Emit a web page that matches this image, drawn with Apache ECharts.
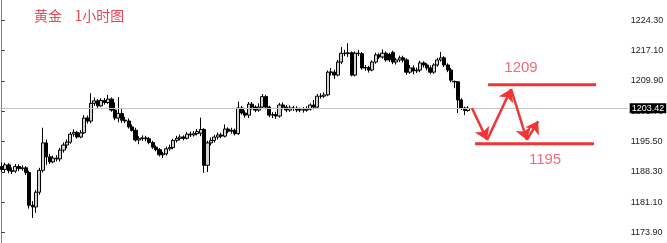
<!DOCTYPE html>
<html>
<head>
<meta charset="utf-8">
<script src="https://cdn.jsdelivr.net/npm/echarts@6/dist/echarts.min.js"></script>
<style>
html,body{margin:0;padding:0;background:#fff;}
#chart{width:667px;height:243px;}
</style>
</head>
<body>
<div id="chart"></div>
<script>
// ---- data ----
const titleText = '黄金    1小时图';
// [open, close, low, high] for each 1-hour bar
const candles = [
[1189.6,1188.9,1188.3,1190.6],[1188.9,1190.0,1188.2,1190.5],[1190.0,1188.6,1188.0,1190.4],[1188.6,1188.5,1187.8,1189.4],
[1188.5,1189.6,1188.1,1190.2],[1189.6,1189.1,1188.5,1190.1],[1189.1,1189.3,1188.6,1189.9],[1189.3,1188.2,1187.6,1189.7],
[1188.2,1180.4,1179.6,1188.6],[1180.4,1180.0,1177.4,1181.4],[1180.0,1183.5,1178.6,1184.0],[1183.5,1188.7,1182.9,1189.3],
[1188.7,1195.2,1188.2,1198.8],[1195.2,1191.9,1190.0,1196.0],[1191.9,1190.7,1190.2,1192.6],[1190.7,1191.6,1190.4,1192.2],
[1191.6,1191.4,1190.8,1192.3],[1191.4,1193.5,1190.8,1194.0],[1193.5,1194.7,1192.9,1195.3],[1194.7,1195.4,1193.9,1196.0],
[1195.4,1197.3,1195.0,1197.8],[1197.3,1197.7,1196.7,1198.4],[1197.7,1196.6,1196.2,1198.0],[1196.6,1197.6,1196.3,1198.2],
[1197.6,1201.1,1197.3,1201.8],[1201.1,1200.4,1199.8,1201.7],[1200.4,1204.6,1199.9,1207.0],[1204.6,1205.2,1204.0,1206.0],
[1205.2,1204.0,1203.5,1205.6],[1204.0,1205.3,1203.8,1205.8],[1205.3,1204.8,1204.3,1205.9],[1204.8,1205.6,1204.5,1206.6],
[1205.6,1203.0,1202.6,1206.0],[1203.0,1201.1,1200.6,1204.8],[1201.1,1202.2,1200.1,1206.1],[1202.2,1200.6,1200.0,1203.4],
[1200.6,1200.4,1199.9,1201.4],[1200.4,1199.0,1198.6,1201.0],[1199.0,1198.2,1197.9,1199.6],[1198.2,1195.9,1195.5,1198.8],
[1195.9,1196.2,1194.9,1196.8],[1196.2,1196.4,1195.7,1197.0],[1196.4,1196.2,1195.6,1196.9],[1196.2,1195.3,1194.9,1196.6],
[1195.3,1194.2,1193.8,1195.7],[1194.2,1193.6,1193.2,1194.6],[1193.6,1192.4,1192.0,1194.0],[1192.4,1192.6,1191.6,1193.1],
[1192.6,1193.8,1192.2,1194.3],[1193.8,1194.1,1193.4,1194.8],[1194.1,1195.8,1193.7,1196.2],[1195.8,1196.3,1195.3,1196.9],
[1196.3,1196.6,1195.8,1197.2],[1196.6,1196.3,1195.8,1197.0],[1196.3,1197.3,1196.0,1197.8],[1197.3,1197.1,1196.6,1197.9],
[1197.1,1197.4,1196.7,1198.0],[1197.4,1197.9,1197.0,1198.5],[1197.5,1198.4,1196.8,1201.2],[1198.4,1189.9,1188.1,1198.7],
[1189.9,1195.2,1188.3,1195.7],[1195.2,1195.8,1194.6,1196.5],[1195.8,1196.6,1195.3,1197.1],[1196.6,1197.1,1196.0,1197.7],
[1197.1,1196.8,1196.3,1197.6],[1196.8,1198.5,1196.5,1199.6],[1198.5,1198.0,1197.5,1198.9],[1198.0,1198.2,1197.4,1198.8],
[1198.2,1197.4,1197.0,1198.6],[1197.4,1203.5,1197.1,1205.0],[1203.5,1202.3,1201.9,1204.0],[1202.3,1201.8,1201.2,1202.9],
[1201.8,1204.4,1201.1,1204.9],[1204.4,1203.7,1203.1,1204.9],[1203.7,1203.0,1202.5,1204.1],[1203.0,1203.7,1202.6,1204.6],
[1203.7,1206.2,1203.4,1206.8],[1206.2,1203.7,1203.2,1206.6],[1203.7,1201.8,1201.3,1204.0],[1201.8,1201.9,1201.1,1202.5],
[1201.9,1201.6,1200.9,1202.6],[1201.6,1204.2,1201.2,1204.7],[1204.2,1203.7,1203.2,1204.8],[1203.7,1203.0,1202.5,1204.2],
[1203.0,1203.5,1202.6,1204.1],[1203.5,1203.4,1202.8,1204.0],[1203.4,1203.0,1202.5,1203.9],[1203.0,1203.1,1202.5,1203.6],
[1203.1,1203.0,1202.4,1203.7],[1203.0,1203.2,1202.6,1203.9],[1203.2,1204.2,1202.9,1204.6],[1204.2,1203.7,1203.2,1205.4],
[1203.7,1206.3,1203.4,1206.8],[1206.3,1206.3,1205.7,1207.0],[1206.3,1206.6,1205.9,1207.2],[1206.6,1212.0,1206.3,1212.4],
[1212.0,1212.0,1211.2,1213.0],[1212.0,1211.3,1210.4,1212.6],[1211.3,1214.4,1211.0,1214.9],[1214.4,1216.5,1213.9,1218.0],
[1216.5,1216.4,1215.8,1217.3],[1216.4,1216.6,1215.6,1218.9],[1216.6,1211.3,1211.0,1216.9],[1211.3,1216.5,1211.0,1216.9],
[1216.5,1216.4,1215.8,1217.3],[1216.4,1213.0,1212.6,1216.8],[1213.0,1213.1,1212.3,1213.7],[1213.1,1212.5,1211.9,1213.5],
[1212.5,1214.4,1212.2,1214.8],[1214.4,1216.1,1214.0,1216.6],[1216.1,1215.6,1215.1,1216.5],[1215.6,1216.5,1215.2,1217.4],
[1216.5,1214.9,1214.5,1216.9],[1216.2,1214.9,1214.4,1216.6],[1216.7,1214.4,1213.9,1217.1],[1214.4,1214.9,1213.8,1215.4],
[1214.9,1215.4,1214.4,1215.9],[1215.4,1214.9,1214.3,1215.9],[1214.9,1212.0,1211.4,1215.3],[1212.0,1213.0,1211.6,1213.7],
[1213.0,1212.3,1211.5,1213.6],[1212.3,1212.5,1211.8,1213.1],[1212.5,1214.2,1212.0,1214.7],[1214.2,1213.7,1213.1,1214.6],
[1213.7,1213.0,1212.4,1214.1],[1213.0,1212.0,1211.5,1213.6],[1212.0,1213.7,1211.6,1214.1],[1213.7,1214.9,1213.3,1215.4],
[1214.9,1215.4,1214.5,1216.8],[1215.4,1213.7,1213.2,1215.8],[1213.7,1212.5,1212.0,1214.1],[1212.5,1210.1,1209.6,1213.0],
[1209.8,1209.7,1208.2,1210.0],[1209.7,1205.4,1202.3,1209.9],[1205.4,1203.5,1203.0,1205.8],[1203.5,1202.9,1201.8,1203.8],
[1202.9,1203.42,1202.6,1203.9]
];
const totalSlots = 183;           // bars + empty space to the right of the last bar
const categories = Array.from({length: totalSlots}, (_, i) => 'H' + i);
const currentPrice = 1203.42;
const yTicks = [1173.90, 1181.10, 1188.30, 1195.50, 1202.70, 1209.90, 1217.10, 1224.30];

// annotation: support / resistance levels and their drawn spans (in bar-index units)
const levels = [1209, 1195];
const levelSpans = [[141.8, 173.3], [138.0, 172.7]];
const levelTextX = [151.4, 158.4];
// annotation: forecast zig-zag arrow path [bar index, price]
const arrowPath = [[137.1, 1203.5], [141.5, 1195.9], [148.5, 1208.0], [153.1, 1195.9], [156.4, 1200.4]];

// ---- chart ----
const tickStep = +(yTicks[1] - yTicks[0]).toFixed(2);
const yMin = +(yTicks[0] - tickStep).toFixed(2);
const yMax = +(yTicks[yTicks.length - 1] + tickStep).toFixed(2);
const RED = '#f03434';
const TXT = '#e8475c';

const chart = echarts.init(document.getElementById('chart'), null, {renderer: 'canvas'});

const series = [{
  type: 'candlestick',
  xAxisIndex: 0, yAxisIndex: 0,
  data: candles,
  barWidth: 3.6,
  itemStyle: {color: '#d4d4d4', color0: '#000000', borderColor: '#000000', borderColor0: '#000000', borderWidth: 1},
  markLine: {
    silent: true, symbol: ['none', 'none'], animation: false,
    lineStyle: {color: '#c4c4c4', width: 1, type: 'solid'},
    label: {show: true, position: 'end', distance: 2, formatter: currentPrice.toFixed(2),
            backgroundColor: '#000', color: '#fff', fontSize: 9, fontFamily: 'Liberation Sans',
            padding: [1, 2, 0, 2]},
    data: [{yAxis: currentPrice}]
  },
  z: 3
}];

levels.forEach((lv, k) => {
  series.push({
    type: 'line', xAxisIndex: 1, yAxisIndex: 0, symbol: 'none', silent: true,
    lineStyle: {color: RED, width: 3}, z: 5,
    data: [[levelSpans[k][0], lv], [levelSpans[k][1], lv]]
  });
  series.push({
    type: 'scatter', xAxisIndex: 1, yAxisIndex: 0, symbolSize: 1, silent: true,
    itemStyle: {color: 'transparent'}, z: 6,
    label: {show: true, position: 'inside', offset: [0, k === 0 ? -17 : 16],
            formatter: String(lv), color: TXT, fontSize: 15, fontFamily: 'Liberation Sans'},
    data: [[levelTextX[k], lv]]
  });
});

const segs = [];
for (let i = 0; i < arrowPath.length - 1; i++) {
  segs.push({coords: [arrowPath[i], arrowPath[i + 1]]});
}
series.push({
  type: 'lines', coordinateSystem: 'cartesian2d', xAxisIndex: 1, yAxisIndex: 0,
  symbol: ['none', 'arrow'], symbolSize: [9, 12], silent: true, z: 7,
  lineStyle: {color: RED, width: 2.5, opacity: 1, curveness: 0},
  data: segs
});

chart.setOption({
  animation: false,
  backgroundColor: '#ffffff',
  title: {text: titleText, left: 29, top: 4,
          textStyle: {color: TXT, fontSize: 14, fontWeight: 'normal', fontFamily: 'Noto Sans CJK SC'}},
  grid: {left: 0, right: 39.3, top: -10, bottom: -20, containLabel: false, outerBoundsMode: 'none'},
  xAxis: [
    {type: 'category', data: categories, boundaryGap: true, show: false},
    {type: 'value', min: -0.5, max: totalSlots - 0.5, show: false}
  ],
  yAxis: [{
    type: 'value', position: 'right', min: yMin, max: yMax, interval: tickStep, scale: true,
    axisLine: {show: true, lineStyle: {color: '#7d7d7d', width: 1}},
    axisTick: {show: true, inside: false, length: 3, lineStyle: {color: '#333'}},
    axisLabel: {show: true, showMinLabel: false, showMaxLabel: false, margin: 3,
                formatter: v => v.toFixed(2), fontSize: 9, color: '#222', fontFamily: 'Liberation Sans'},
    splitLine: {show: false}
  }],
  series: series
});
</script>
</body>
</html>
